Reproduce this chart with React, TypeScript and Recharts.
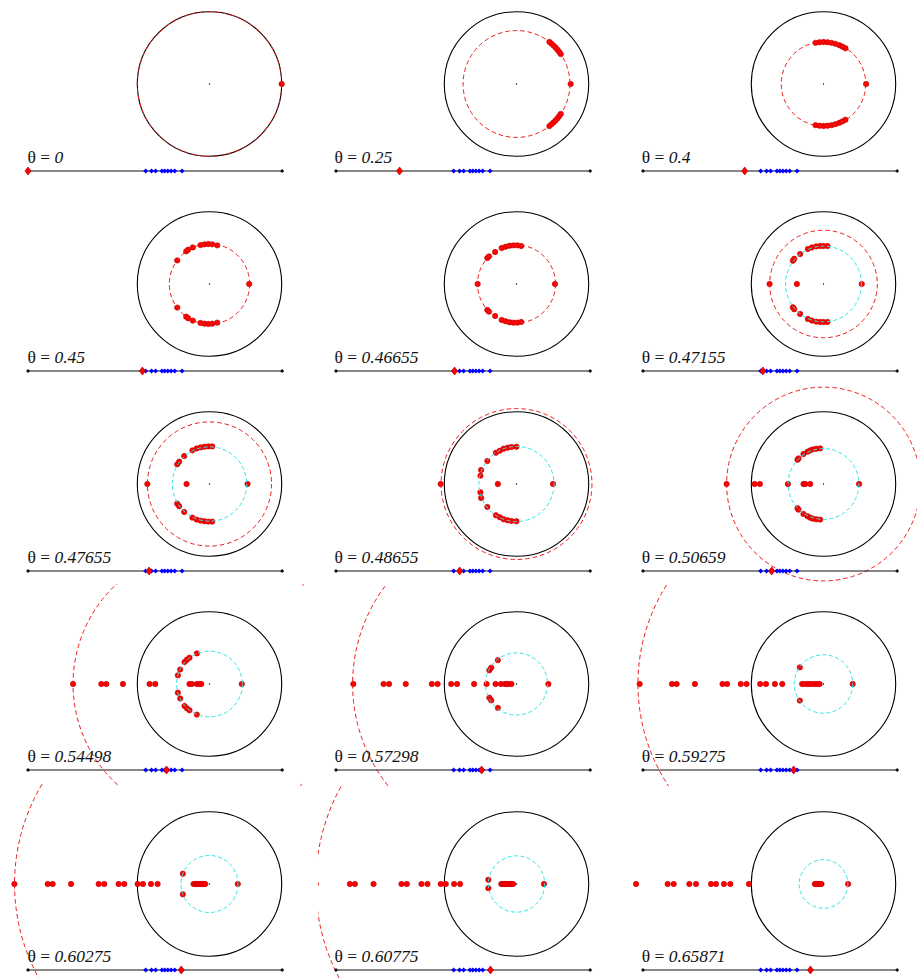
import { ScatterChart, Scatter, XAxis, YAxis, ReferenceLine } from "recharts";

// theta of each panel (label text + position of the red marker on the [0,1] line)
const thetaLabels = ["0", "0.25", "0.4", "0.45", "0.46655", "0.47155", "0.47655", "0.48655", "0.50659", "0.54498", "0.57298", "0.59275", "0.60275", "0.60775", "0.65871"];
const thetaValues = [0, 0.25, 0.4, 0.45, 0.46655, 0.47155, 0.47655, 0.48655, 0.50659, 0.54498, 0.57298, 0.59275, 0.60275, 0.60775, 0.65871];

// blue marks on the theta line
const criticalThetas = [0.463, 0.486, 0.502, 0.527, 0.538, 0.55, 0.563, 0.577, 0.606];

// radius of the red dashed circle and the cyan dashed circle (unit circle = black)
const redRadius = [1, 0.74, 0.585, 0.556, 0.54, 0.745, 0.86, 1.045, 1.342, 1.89, 2.27, 2.57, 2.7, 2.78, 3.6];
const cyanRadius = [0, 0, 0, 0, 0, 0.525, 0.515, 0.52, 0.49, 0.455, 0.43, 0.405, 0.395, 0.39, 0.337];

// red points, [x, y]
const pts0 = [[1, 0]];
const pts1 = [
  [0.75, 0], [0.613, 0.414], [0.591, 0.445], [0.567, 0.476], [0.541, 0.505], [0.514, 0.532], [0.485, 0.558], [0.456, 0.583],
  [0.613, -0.414], [0.591, -0.445], [0.567, -0.476], [0.541, -0.505], [0.514, -0.532], [0.485, -0.558], [0.456, -0.583],
];
const pts2 = [
  [0.59, 0], [-0.111, 0.57], [-0.055, 0.578], [0, 0.581], [0.055, 0.578], [0.111, 0.57], [0.166, 0.556], [0.221, 0.537], [0.263, 0.517], [0.304, 0.495],
  [-0.111, -0.57], [-0.055, -0.578], [0, -0.581], [0.055, -0.578], [0.111, -0.57], [0.166, -0.556], [0.221, -0.537], [0.263, -0.517], [0.304, -0.495],
];
const pts3 = [
  [0.55, 0], [-0.447, 0.327], [-0.323, 0.452], [-0.296, 0.475], [-0.231, 0.507], [-0.124, 0.539], [-0.07, 0.549], [-0.016, 0.553], [0.038, 0.549], [0.108, 0.535],
  [-0.447, -0.327], [-0.323, -0.452], [-0.296, -0.475], [-0.231, -0.507], [-0.124, -0.539], [-0.07, -0.549], [-0.016, -0.553], [0.038, -0.549], [0.108, -0.535],
];
const pts4 = [
  [-0.538, 0], [0.533, 0], [-0.404, 0.36], [-0.381, 0.383], [-0.296, 0.443], [-0.205, 0.498], [-0.151, 0.516], [-0.097, 0.53], [-0.043, 0.535], [0.011, 0.535], [0.065, 0.526],
  [-0.404, -0.36], [-0.381, -0.383], [-0.296, -0.443], [-0.205, -0.498], [-0.151, -0.516], [-0.097, -0.53], [-0.043, -0.535], [0.011, -0.535], [0.065, -0.526],
];
const pts5 = [
  [-0.747, 0], [-0.369, 0], [0.53, 0], [-0.424, 0.323], [-0.406, 0.35], [-0.323, 0.415], [-0.217, 0.484], [-0.161, 0.507], [-0.101, 0.521], [-0.046, 0.526], [0, 0.526], [0.055, 0.526],
  [-0.424, -0.323], [-0.406, -0.35], [-0.323, -0.415], [-0.217, -0.484], [-0.161, -0.507], [-0.101, -0.521], [-0.046, -0.526], [0, -0.526], [0.055, -0.526],
];
const pts6 = [
  [-0.861, 0], [-0.318, 0], [0.527, 0], [-0.447, 0.272], [-0.42, 0.309], [-0.35, 0.387], [-0.237, 0.466], [-0.178, 0.493], [-0.124, 0.507], [-0.07, 0.516], [-0.016, 0.521], [0.038, 0.521],
  [-0.447, -0.272], [-0.42, -0.309], [-0.35, -0.387], [-0.237, -0.466], [-0.178, -0.493], [-0.124, -0.507], [-0.07, -0.516], [-0.016, -0.521], [0.038, -0.521],
];
const pts7 = [
  [-1.05, 0], [-0.258, 0], [0.506, 0], [-0.5, 0.115], [-0.49, 0.194], [-0.404, 0.318], [-0.285, 0.433], [-0.231, 0.461], [-0.178, 0.489], [-0.124, 0.503], [-0.07, 0.512], [0, 0.516],
  [-0.5, -0.115], [-0.49, -0.194], [-0.404, -0.318], [-0.285, -0.433], [-0.231, -0.461], [-0.178, -0.489], [-0.124, -0.503], [-0.07, -0.512], [0, -0.516],
];
const pts8 = [
  [-1.342, 0], [-0.954, 0], [-0.881, 0], [-0.493, 0], [-0.277, 0], [-0.253, 0], [-0.184, 0], [0.493, 0],
  [-0.36, 0.336], [-0.346, 0.355], [-0.277, 0.415], [-0.221, 0.447], [-0.184, 0.466], [-0.148, 0.48], [-0.101, 0.489], [-0.046, 0.493],
  [-0.36, -0.336], [-0.346, -0.355], [-0.277, -0.415], [-0.221, -0.447], [-0.184, -0.466], [-0.148, -0.48], [-0.101, -0.489], [-0.046, -0.493],
];
const pts9 = [
  [-1.89, 0], [-1.498, 0], [-1.429, 0], [-1.199, 0], [-0.83, 0], [-0.751, 0], [-0.277, 0], [-0.244, 0], [-0.175, 0], [-0.138, 0], [-0.115, 0], [0.447, 0],
  [-0.438, 0.12], [-0.406, 0.2], [-0.346, 0.304], [-0.313, 0.337], [-0.277, 0.364], [-0.175, 0.424],
  [-0.438, -0.12], [-0.406, -0.2], [-0.346, -0.304], [-0.313, -0.337], [-0.277, -0.364], [-0.175, -0.424],
];
const pts10 = [
  [-2.26, 0], [-1.841, 0], [-1.765, 0], [-1.534, 0], [-1.173, 0], [-1.093, 0], [-0.904, 0], [-0.823, 0], [-0.587, 0], [-0.415, 0],
  [-0.29, 0], [-0.215, 0], [-0.161, 0], [-0.135, 0], [-0.108, 0], [-0.07, 0], [0.441, 0],
  [-0.376, 0.189], [-0.35, 0.226], [-0.258, 0.33], [-0.376, -0.189], [-0.35, -0.226], [-0.258, -0.33],
];
const pts11 = [
  [-2.546, 0], [-2.099, 0], [-2.034, 0], [-1.781, 0], [-1.399, 0], [-1.335, 0], [-1.146, 0], [-1.066, 0], [-0.877, 0], [-0.797, 0], [-0.673, 0], [-0.571, 0],
  [-0.296, 0], [-0.258, 0], [-0.221, 0], [-0.188, 0], [-0.151, 0], [-0.113, 0], [-0.081, 0], [-0.054, 0], [0.404, 0],
  [-0.328, 0.23], [-0.328, -0.23],
];
const pts12 = [
  [-2.702, 0], [-2.241, 0], [-2.172, 0], [-1.918, 0], [-1.535, 0], [-1.457, 0], [-1.259, 0], [-1.18, 0], [-0.996, 0], [-0.922, 0], [-0.811, 0], [-0.719, 0],
  [-0.221, 0], [-0.198, 0], [-0.175, 0], [-0.152, 0], [-0.129, 0], [-0.106, 0], [-0.083, 0], [-0.06, 0], [0.392, 0],
  [-0.369, 0.143], [-0.369, -0.143],
];
const pts13 = [
  [-2.78, 0], [-2.308, 0], [-2.238, 0], [-1.98, 0], [-1.593, 0], [-1.519, 0], [-1.316, 0], [-1.233, 0], [-1.049, 0], [-0.98, 0], [-0.864, 0], [-0.781, 0],
  [-0.21, 0], [-0.187, 0], [-0.164, 0], [-0.141, 0], [-0.118, 0], [-0.095, 0], [-0.071, 0], [-0.048, 0], [0.38, 0],
  [-0.39, 0.058], [-0.39, -0.058],
];
const pts14 = [
  [-2.596, 0], [-2.158, 0], [-2.075, 0], [-1.858, 0], [-1.766, 0], [-1.558, 0], [-1.489, 0], [-1.379, 0], [-1.291, 0], [-1.033, 0],
  [-0.12, 0], [-0.097, 0], [-0.074, 0], [-0.051, 0], [-0.028, 0], [0.341, 0],
];
const panelPoints = [pts0, pts1, pts2, pts3, pts4, pts5, pts6, pts7, pts8, pts9, pts10, pts11, pts12, pts13, pts14];

// layout
const S = 72.2; // px per unit of the circle plots
const COL_X = [209.2, 516.3, 823.5];
const ROW_Y = [84.3, 284.3, 484.3, 683.8, 883.7];
const BOX_L = 198.5, BOX_R = 95, BOX_T = 100, BOX_B = 102;
const LINE_L = 180.8, LINE_R = 73.4, LINE_DY = 86.6, PAD = 8;

const ring = (color: string, width: number, dash?: string) => (p: any) => (
  <circle cx={p.cx} cy={p.cy} r={p.payload.r * S} fill="none" stroke={color} strokeWidth={width} strokeDasharray={dash} />
);
const RedDot = (p: any) => <circle cx={p.cx} cy={p.cy} r={2.7} fill="#ff0000" stroke="#c00000" strokeWidth={0.6} />;
const CenterDot = (p: any) => <circle cx={p.cx} cy={p.cy} r={0.7} fill="#000" />;
const diamond = (w: number, h: number, fill: string, stroke?: string) => (p: any) => (
  <polygon
    points={`${p.cx - w},${p.cy} ${p.cx},${p.cy - h} ${p.cx + w},${p.cy} ${p.cx},${p.cy + h}`}
    fill={fill}
    stroke={stroke || "none"}
    strokeWidth={0.7}
  />
);

function Panel({ i }: { i: number }) {
  const cx = COL_X[i % 3];
  const cy = ROW_Y[Math.floor(i / 3)];
  const w = BOX_L + BOX_R;
  const h = BOX_T + BOX_B;
  const dots = panelPoints[i].map(([x, y]) => ({ x, y }));
  const lw = LINE_L + LINE_R + 2 * PAD;
  return (
    <>
      <div style={{ position: "absolute", left: cx - BOX_L, top: cy - BOX_T, width: w, height: h, overflow: "hidden" }}>
        <ScatterChart width={w} height={h} margin={{ top: 0, right: 0, bottom: 0, left: 0 }}>
          <XAxis type="number" dataKey="x" domain={[-BOX_L / S, BOX_R / S]} hide allowDataOverflow />
          <YAxis type="number" dataKey="y" domain={[-BOX_B / S, BOX_T / S]} hide allowDataOverflow />
          <Scatter data={[{ x: 0, y: 0, r: 1 }]} shape={ring("#000", 1.1)} isAnimationActive={false} />
          <Scatter data={dots} shape={RedDot} isAnimationActive={false} />
          <Scatter data={[{ x: 0, y: 0, r: redRadius[i] }]} shape={ring("#ee1c1c", 1, "4.5 3")} isAnimationActive={false} />
          {cyanRadius[i] > 0 && (
            <Scatter data={[{ x: 0, y: 0, r: cyanRadius[i] }]} shape={ring("#2ee6e6", 1, "4 2.5")} isAnimationActive={false} />
          )}
          <Scatter data={[{ x: 0, y: 0 }]} shape={CenterDot} isAnimationActive={false} />
        </ScatterChart>
      </div>
      <div style={{ position: "absolute", left: cx - LINE_L - PAD, top: cy + LINE_DY - 8, width: lw, height: 16 }}>
        <ScatterChart width={lw} height={16} margin={{ top: 0, right: PAD, bottom: 0, left: PAD }}>
          <XAxis type="number" dataKey="x" domain={[0, 1]} hide />
          <YAxis type="number" dataKey="y" domain={[-1, 1]} hide />
          <ReferenceLine y={0} stroke="#111" strokeWidth={1.2} />
          <Scatter data={[{ x: 0, y: 0 }, { x: 1, y: 0 }]} shape={diamond(2, 2, "#111")} isAnimationActive={false} />
          <Scatter data={criticalThetas.map((x) => ({ x, y: 0 }))} shape={diamond(2.5, 2.5, "#0000ff")} isAnimationActive={false} />
          <Scatter data={[{ x: thetaValues[i], y: 0 }]} shape={diamond(3, 4, "#ff0000", "#b00000")} isAnimationActive={false} />
        </ScatterChart>
      </div>
      <div
        style={{
          position: "absolute",
          left: cx - LINE_L - 1,
          top: cy + LINE_DY - 7.5 - 14.7,
          fontFamily: '"Liberation Serif", "Times New Roman", serif',
          fontSize: 17.5,
          lineHeight: 1,
          whiteSpace: "nowrap",
          color: "#111",
        }}
      >
        θ = <i>{thetaLabels[i]}</i>
      </div>
    </>
  );
}

export default function App() {
  return (
    <div style={{ position: "absolute", left: 0, top: 0, width: 917, height: 978, background: "#fff", overflow: "hidden" }}>
      {thetaLabels.map((_, i) => (
        <Panel key={i} i={i} />
      ))}
    </div>
  );
}
